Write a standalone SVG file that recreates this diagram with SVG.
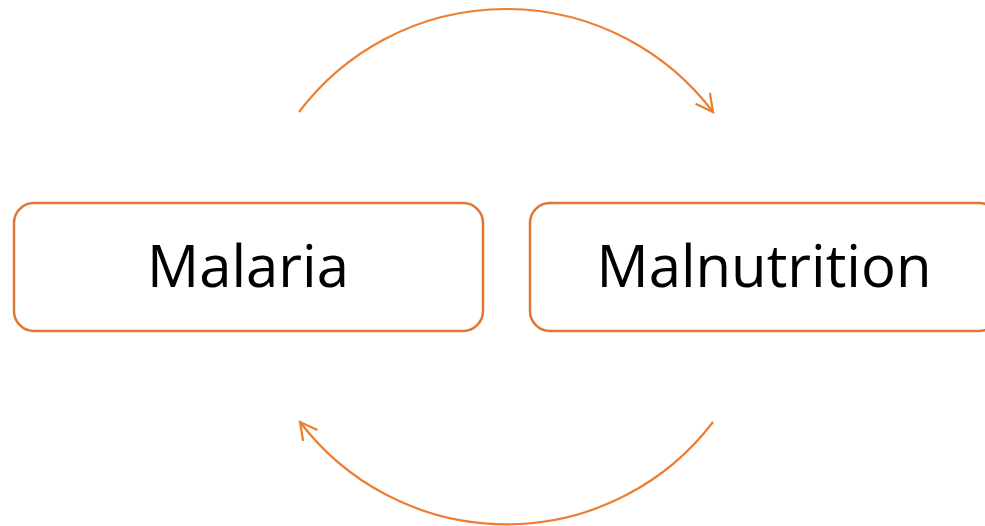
<svg xmlns="http://www.w3.org/2000/svg" width="985" height="526" viewBox="0 0 985 526">
<style>
.box{fill:#fff;stroke:#E07633;stroke-width:2.5}
.lbl{font-family:"Open Sans","Noto Sans",sans-serif;font-size:58px;fill:#000;text-anchor:middle}
.arc{fill:none;stroke:#ED7D31;stroke-width:2.2}
</style>
<defs>
<marker id="ah" markerUnits="userSpaceOnUse" markerWidth="40" markerHeight="40" viewBox="-20 -20 40 40" refX="0" refY="0" orient="auto" overflow="visible">
<path d="M -17 -9 L 0 0 L -17 9" fill="none" stroke="#ED7D31" stroke-width="2.2"/>
</marker>
</defs>
<rect width="985" height="526" fill="#fff"/>
<g id="connectors">
<path class="arc" d="M 299 112 A 259.5 259.5 0 0 1 713 112" marker-end="url(#ah)"/>
<path class="arc" d="M 713 422 A 259.5 259.5 0 0 1 300 422" marker-end="url(#ah)"/>
</g>
<g id="malaria">
<rect class="box" x="14" y="203" width="469" height="128" rx="20"/>
<text class="lbl" x="248" y="287">Malaria</text>
</g>
<g id="malnutrition">
<rect class="box" x="530" y="203" width="469" height="128" rx="20"/>
<text class="lbl" x="764" y="287">Malnutrition</text>
</g>
</svg>
